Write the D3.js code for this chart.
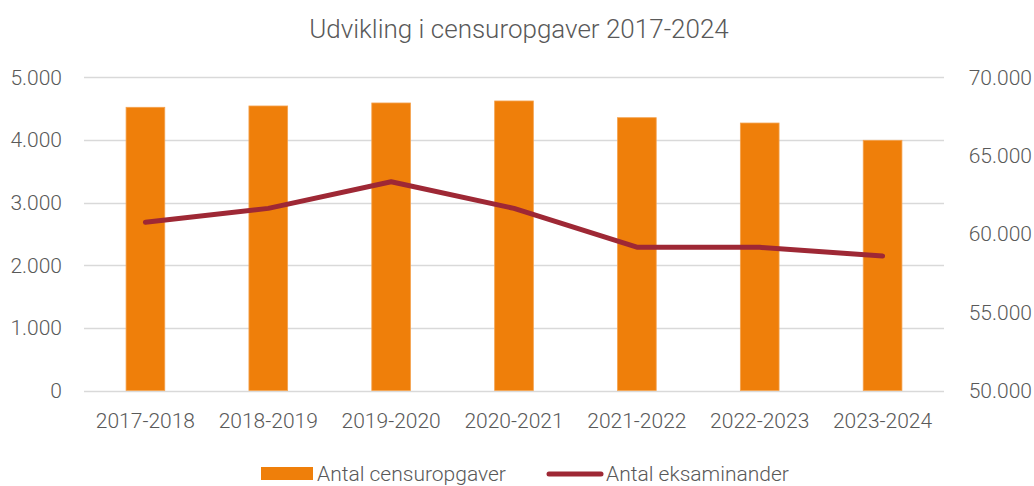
<!DOCTYPE html>
<html>
<head>
<meta charset="utf-8">
<script src="https://cdn.jsdelivr.net/npm/d3@7"></script>
<style>
  body { margin: 0; background: #fff; }
  text { font-family: Roboto, sans-serif; font-weight: 300; fill: #595959; }
</style>
</head>
<body>
<svg id="chart" width="1034" height="486"></svg>
<script>
// data
var years = ["2017-2018", "2018-2019", "2019-2020", "2020-2021", "2021-2022", "2022-2023", "2023-2024"];
var censuropgaver = [4521, 4542, 4590, 4622, 4355, 4270, 3994];
var eksaminander = [60740, 61630, 63330, 61630, 59150, 59140, 58590];
var leftTicks = [0, 1000, 2000, 3000, 4000, 5000];
var rightTicks = [50000, 55000, 60000, 65000, 70000];

var svg = d3.select("#chart"),
  width = +svg.attr("width"),
  height = +svg.attr("height");

var margin = {top: 77.3, right: 90, bottom: 95.5, left: 84};
var plotW = width - margin.left - margin.right,
  plotH = height - margin.top - margin.bottom;

var fmt = function(d) { return d3.format(",")(d).replace(/,/g, "."); };

var x = d3.scaleBand()
  .domain(years)
  .range([margin.left, margin.left + plotW])
  .paddingInner(0.685)
  .paddingOuter(0.3425);

var yL = d3.scaleLinear().domain([0, 5000]).range([margin.top + plotH, margin.top]);
var yR = d3.scaleLinear().domain([50000, 70000]).range([margin.top + plotH, margin.top]);

// title
svg.append("text")
  .attr("x", 519)
  .attr("y", 38)
  .attr("text-anchor", "middle")
  .style("font-size", "26px")
  .text("Udvikling i censuropgaver 2017-2024");

// gridlines
svg.append("g")
  .selectAll("line")
  .data(leftTicks)
  .enter().append("line")
  .attr("x1", margin.left)
  .attr("x2", margin.left + plotW)
  .attr("y1", function(d) { return Math.round(yL(d)) + 0.5; })
  .attr("y2", function(d) { return Math.round(yL(d)) + 0.5; })
  .style("stroke", "#d9d9d9")
  .style("stroke-width", 1.5);

// left axis labels
svg.append("g")
  .selectAll("text")
  .data(leftTicks)
  .enter().append("text")
  .attr("x", 62)
  .attr("y", function(d) { return yL(d) + 7.5; })
  .attr("text-anchor", "end")
  .style("font-size", "21px")
  .text(fmt);

// right axis labels
svg.append("g")
  .selectAll("text")
  .data(rightTicks)
  .enter().append("text")
  .attr("x", 1032)
  .attr("y", function(d) { return yR(d) + 7.5; })
  .attr("text-anchor", "end")
  .style("font-size", "21px")
  .text(fmt);

// bars
svg.append("g")
  .selectAll("rect")
  .data(censuropgaver)
  .enter().append("rect")
  .attr("x", function(d, i) { return x(years[i]); })
  .attr("y", function(d) { return yL(d); })
  .attr("width", x.bandwidth())
  .attr("height", function(d) { return yL(0) - yL(d); })
  .style("fill", "#ef7f0a")
  .style("stroke", "#f4a24f")
  .style("stroke-width", 0.8);

// category labels
svg.append("g")
  .selectAll("text")
  .data(years)
  .enter().append("text")
  .attr("x", function(d) { return x(d) + x.bandwidth() / 2; })
  .attr("y", 428)
  .attr("text-anchor", "middle")
  .style("font-size", "21px")
  .text(function(d) { return d; });

// line
var line = d3.line()
  .x(function(d, i) { return x(years[i]) + x.bandwidth() / 2; })
  .y(function(d) { return yR(d); });

svg.append("path")
  .datum(eksaminander)
  .attr("d", line)
  .style("fill", "none")
  .style("stroke", "#9e2835")
  .style("stroke-width", 5)
  .style("stroke-linecap", "round")
  .style("stroke-linejoin", "round");

// legend
var legend = svg.append("g");
legend.append("rect")
  .attr("x", 261).attr("y", 467)
  .attr("width", 52).attr("height", 13)
  .style("fill", "#ef7f0a");
legend.append("text")
  .attr("x", 317).attr("y", 481)
  .style("font-size", "21px")
  .text("Antal censuropgaver");
legend.append("line")
  .attr("x1", 549).attr("x2", 601)
  .attr("y1", 474).attr("y2", 474)
  .style("stroke", "#9e2835")
  .style("stroke-width", 5)
  .style("stroke-linecap", "round");
legend.append("text")
  .attr("x", 606).attr("y", 481)
  .style("font-size", "21px")
  .text("Antal eksaminander");
</script>
</body>
</html>
